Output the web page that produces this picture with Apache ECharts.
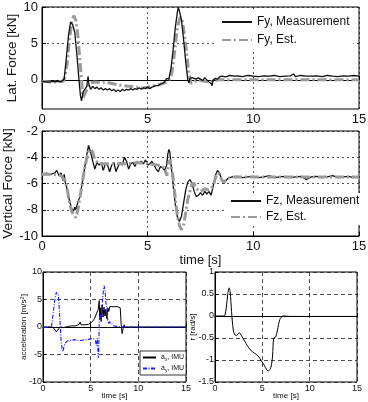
<!DOCTYPE html>
<html>
<head>
<meta charset="utf-8">
<script src="https://cdn.jsdelivr.net/npm/echarts@6/dist/echarts.min.js"></script>
<style>
  html, body { margin: 0; padding: 0; background: #fff; }
  #chart { width: 368px; height: 402px; }
</style>
</head>
<body>
<div id="chart"></div>
<script>
// time [s] / value pairs
const fyMeas = [[0,-0.2],[0.3,-0.3],[0.6,-0.2],[0.9,-0.25],[1.05,0.1],[1.15,3],[1.25,6],[1.35,7.9],[1.45,7.6],[1.55,6.5],[1.65,3.5],[1.75,0],[1.82,-2.2],[1.87,-2.9],[1.95,-1.6],[2.05,-1.2],[2.12,-0.9],[2.18,0.5],[2.22,-0.6],[2.3,-1.3],[2.4,-0.9],[2.5,-1.2],[2.6,-1.0],[2.7,-1.3],[2.8,-1.1],[2.9,-1.4],[3.0,-1.2],[3.1,-1.4],[3.2,-1.2],[3.3,-1.5],[3.4,-1.3],[3.5,-1.6],[3.6,-1.4],[3.7,-1.6],[3.8,-1.3],[3.9,-1.5],[4.0,-1.3],[4.1,-1.4],[4.2,-1.2],[4.3,-1.4],[4.4,-1.2],[4.5,-1.3],[4.6,-1.1],[4.7,-1.3],[4.8,-1.1],[4.9,-1.2],[5.0,-1.0],[5.1,-1.2],[5.2,-1.0],[5.3,-0.9],[5.4,-0.8],[5.5,-0.8],[5.6,-0.6],[5.7,-0.5],[5.8,-0.3],[5.9,0.2],[6.0,0.1],[6.1,1.5],[6.2,4],[6.3,7],[6.4,9.2],[6.45,9.9],[6.5,9.5],[6.6,8.2],[6.7,5.5],[6.8,2.5],[6.9,0.0],[6.95,-0.4],[7.0,0.2],[7.1,0.3],[7.2,0.2],[7.3,0.1],[7.4,0.3],[7.5,0.1],[7.6,-0.1],[7.7,0.3],[7.8,0.0],[7.9,-0.3],[8.0,-0.5],[8.05,-0.8],[8.1,0.0],[8.2,0.2],[8.3,0.1],[8.4,0.4],[8.5,0.5],[8.7,0.4],[8.9,0.6],[9.1,0.5],[9.25,0.55],[9.5,0.45],[9.75,0.6],[10,0.5],[10.25,0.45],[10.5,0.55],[10.75,0.5],[11,0.6],[11.25,0.45],[11.5,0.5],[11.75,0.55],[11.9,0.8],[12,0.45],[12.25,0.6],[12.5,0.5],[12.75,0.5],[13,0.55],[13.25,0.45],[13.5,0.6],[13.75,0.5],[14,0.45],[14.25,0.55],[14.5,0.5],[14.75,0.6],[15,0.5]];
const fyEst = [[0,-0.2],[0.5,-0.3],[1.0,-0.2],[1.1,0.5],[1.2,2.5],[1.3,5.5],[1.4,7.8],[1.5,8.8],[1.6,8.2],[1.7,6],[1.8,2.5],[1.9,-1.0],[1.95,-2.4],[2.05,-1.8],[2.2,-0.8],[2.3,-0.4],[2.5,-0.3],[2.8,-0.4],[3.0,-0.3],[3.3,-0.5],[3.6,-0.7],[3.9,-0.8],[4.2,-0.9],[4.5,-1.0],[4.8,-1.1],[5.0,-1.0],[5.3,-0.8],[5.6,-0.6],[5.9,-0.3],[6.1,0.3],[6.2,2],[6.3,4.5],[6.4,7],[6.5,8.3],[6.55,8.6],[6.65,8.0],[6.75,6],[6.85,3.5],[6.95,1],[7.05,-0.5],[7.15,-0.3],[7.4,0.0],[7.7,-0.2],[8.0,-0.3],[8.3,0.0],[9,0.0],[10,0.0],[11,0.0],[12,0],[13,0],[14,0],[15,0]];

const fzMeas = [[0,-5.3],[0.2,-5.2],[0.4,-5.3],[0.6,-5.2],[0.7,-5.0],[0.8,-5.4],[0.9,-5.2],[1.0,-5.8],[1.05,-5.3],[1.1,-5.9],[1.2,-6.5],[1.3,-7.3],[1.4,-7.9],[1.5,-8.1],[1.55,-7.8],[1.6,-8.0],[1.7,-7.4],[1.8,-7.0],[1.9,-6.0],[2.0,-5.0],[2.1,-4.0],[2.2,-3.1],[2.3,-3.6],[2.4,-4.3],[2.5,-4.9],[2.6,-4.4],[2.7,-4.6],[2.8,-4.4],[2.9,-5.0],[3.0,-4.5],[3.1,-4.6],[3.2,-5.1],[3.3,-4.6],[3.4,-4.4],[3.5,-5.1],[3.6,-4.7],[3.7,-4.4],[3.8,-4.6],[3.9,-4.0],[4.0,-4.3],[4.1,-4.9],[4.2,-4.5],[4.3,-4.4],[4.4,-4.7],[4.5,-4.3],[4.6,-4.5],[4.7,-4.3],[4.8,-4.5],[4.9,-4.2],[5.0,-4.6],[5.1,-4.5],[5.2,-4.3],[5.3,-4.6],[5.4,-4.9],[5.5,-5.1],[5.6,-4.7],[5.7,-4.8],[5.8,-5.0],[5.9,-4.6],[5.95,-3.8],[6.0,-3.4],[6.05,-3.6],[6.1,-4.5],[6.2,-6.0],[6.3,-7.5],[6.4,-8.5],[6.5,-8.9],[6.6,-8.5],[6.7,-7.5],[6.8,-6.5],[6.9,-5.9],[7.0,-5.7],[7.1,-6.0],[7.2,-6.6],[7.3,-7.0],[7.4,-6.9],[7.5,-6.7],[7.6,-6.9],[7.7,-6.6],[7.8,-6.8],[7.9,-6.6],[8.0,-6.9],[8.1,-6.2],[8.2,-5.4],[8.3,-5.0],[8.4,-5.2],[8.5,-5.7],[8.6,-6.0],[8.7,-5.8],[8.8,-5.6],[9.0,-5.5],[9.25,-5.45],[9.5,-5.55],[9.75,-5.5],[10,-5.45],[10.25,-5.55],[10.5,-5.5],[10.75,-5.4],[11,-5.55],[11.25,-5.5],[11.5,-5.45],[11.75,-5.55],[12,-5.5],[12.25,-5.45],[12.5,-5.7],[12.75,-5.5],[13,-5.45],[13.25,-5.55],[13.5,-5.5],[13.75,-5.4],[14,-5.55],[14.25,-5.5],[14.5,-5.45],[14.75,-5.55],[15,-5.5]];
const fzEst = [[0,-5.3],[0.5,-5.3],[0.9,-5.4],[1.1,-5.8],[1.2,-6.5],[1.3,-7.4],[1.4,-8.1],[1.5,-8.4],[1.6,-8.6],[1.7,-8.0],[1.8,-7.0],[1.9,-6.0],[2.0,-5.0],[2.1,-4.2],[2.2,-3.6],[2.3,-3.4],[2.4,-3.6],[2.5,-4.2],[2.7,-4.5],[3.0,-4.5],[3.5,-4.5],[4.0,-4.5],[4.5,-4.4],[5.0,-4.5],[5.5,-4.6],[5.8,-4.8],[5.9,-5.4],[6.0,-4.5],[6.05,-4.2],[6.1,-4.6],[6.2,-5.5],[6.3,-7.0],[6.4,-8.4],[6.5,-9.2],[6.6,-9.5],[6.7,-9.2],[6.8,-8.2],[6.9,-7.2],[7.0,-6.6],[7.1,-6.0],[7.2,-6.0],[7.3,-6.4],[7.5,-6.6],[7.7,-6.4],[7.9,-6.5],[8.1,-6.2],[8.2,-5.6],[8.3,-5.2],[8.4,-5.3],[8.5,-5.7],[8.6,-5.9],[8.8,-5.6],[9.0,-5.5],[10,-5.5],[12,-5.5],[15,-5.5]];

const axImu = [[0,0],[0.5,0],[1.0,0],[1.2,-0.4],[1.4,-0.85],[1.6,-0.6],[1.8,0],[2.0,0.1],[2.2,-0.1],[2.4,0.2],[2.6,0.1],[2.8,0.3],[3.0,0.2],[3.2,0.3],[3.4,0.2],[3.6,0.3],[3.8,0.5],[3.9,0.9],[4.0,0.4],[4.2,0.3],[4.4,0.4],[4.6,0.3],[4.8,0.5],[5.0,0.6],[5.2,1.0],[5.4,1.5],[5.6,2.4],[5.8,3.2],[5.9,4.8],[5.95,1.5],[6.0,3.5],[6.1,1.0],[6.2,4.0],[6.3,1.8],[6.4,3.6],[6.5,2.0],[6.6,3.2],[6.7,1.5],[6.8,3.5],[6.9,2.8],[7.0,3.7],[7.2,3.8],[7.4,3.7],[7.6,3.8],[7.8,3.7],[8.0,3.8],[8.1,3.5],[8.2,0.5],[8.3,-1.2],[8.4,-0.3],[8.5,0.4],[8.6,0],[9,0],[15,0]];
const ayImu = [[0,-0.1],[0.5,0],[0.9,0.2],[1.0,1.5],[1.2,4.5],[1.4,6.3],[1.5,6.5],[1.6,5.8],[1.7,3.5],[1.8,0.5],[1.9,-2.5],[2.0,-4.0],[2.1,-4.5],[2.2,-3.5],[2.3,-3.0],[2.5,-2.6],[2.7,-2.8],[2.9,-2.4],[3.1,-2.6],[3.3,-2.3],[3.5,-2.6],[3.7,-2.5],[3.9,-2.7],[4.1,-2.4],[4.3,-2.6],[4.5,-2.3],[4.7,-2.5],[4.9,-2.2],[5.1,-2.5],[5.3,-2.1],[5.5,-2.5],[5.6,-3.5],[5.7,-2.0],[5.8,-5.6],[5.85,-4.0],[5.9,1.0],[6.0,2.5],[6.1,1.2],[6.2,4.0],[6.3,6.0],[6.4,7.5],[6.5,6.8],[6.6,4.5],[6.7,3.0],[6.8,1.2],[6.9,0.5],[7.0,1.0],[7.2,0.6],[7.4,0.2],[7.6,0.4],[7.8,0.1],[8.0,0.1],[8.5,0],[15,0]];

const yawRate = [[0,0],[0.5,0],[0.98,0],[1.05,0.02],[1.2,0.2],[1.35,0.5],[1.5,0.64],[1.6,0.55],[1.75,0.1],[1.93,-0.32],[2.1,-0.43],[2.3,-0.44],[2.56,-0.38],[2.8,-0.45],[3.16,-0.58],[3.69,-0.76],[4.2,-0.85],[4.57,-0.91],[4.9,-1.02],[5.2,-1.12],[5.45,-1.22],[5.62,-1.25],[5.9,-1.17],[6.08,-0.91],[6.2,-0.5],[6.4,-0.48],[6.6,-0.32],[6.85,-0.08],[7.2,0],[8,-0.01],[15,-0.01]];

const topYTicks = [0, 5, 10];

const font = 'Liberation Sans, Arial, sans-serif';
const gridDash = { color: '#222', width: 0.8, type: [2, 3] };
const bottomDash = { color: '#222', width: 0.8, type: [4, 3] };

function xAxisCfg(gridIndex, big, name, nameGap) {
  return {
    type: 'value', gridIndex, min: 0, max: 15, interval: 5,
    name, nameLocation: 'middle', nameGap, nameMoveOverlap: false,
    nameTextStyle: { fontFamily: font, fontSize: big ? 13 : 8, color: '#111' },
    axisLine: { lineStyle: { color: '#000', width: 1 } },
    axisTick: { inside: true, length: big ? 4 : 3, lineStyle: { color: '#000' } },
    axisLabel: { fontFamily: font, fontSize: big ? 13 : 9, color: '#111', margin: big ? 4 : 2 },
    splitLine: { show: true, lineStyle: big ? gridDash : bottomDash }
  };
}

function yAxisCfg(gridIndex, big, extra) {
  return Object.assign({
    type: 'value', gridIndex, nameLocation: 'middle', nameRotate: 90, nameMoveOverlap: false,
    nameTextStyle: { fontFamily: font, fontSize: big ? 13.5 : 8, color: '#111' },
    axisLine: { lineStyle: { color: '#000', width: 1 } },
    axisTick: { inside: true, length: big ? 4 : 3, lineStyle: { color: '#000' } },
    axisLabel: { fontFamily: font, fontSize: big ? 13 : 9, color: '#111', margin: big ? 4 : 1 },
    splitLine: { show: true, lineStyle: big ? gridDash : bottomDash }
  }, extra);
}

function gridCfg(left, top, width, height) {
  return { left, top, width, height, show: true, borderColor: '#000', borderWidth: 1,
    containLabel: false, outerBoundsMode: 'none' };
}

const chart = echarts.init(document.getElementById('chart'), null, { renderer: 'canvas' });

chart.setOption({
  backgroundColor: '#fff',
  animation: false,
  grid: [
    gridCfg(42, 7, 317, 102),
    gridCfg(42, 131, 317, 105),
    gridCfg(43, 272, 143, 110),
    gridCfg(215, 272, 142, 110)
  ],
  xAxis: [
    xAxisCfg(0, true, '', 0),
    xAxisCfg(1, true, 'time [s]', 18),
    xAxisCfg(2, false, 'time [s]', 10),
    xAxisCfg(3, false, 'time [s]', 10)
  ],
  yAxis: [
    yAxisCfg(0, true, {
      min: -4, max: 10, name: 'Lat. Force [kN]', nameGap: 23,
      axisTick: { inside: true, length: 4, lineStyle: { color: '#000' }, customValues: topYTicks },
      axisLabel: { fontFamily: font, fontSize: 13, color: '#111', margin: 4, customValues: topYTicks }
    }),
    yAxisCfg(1, true, { min: -10, max: -2, interval: 2, name: 'Vertical Force [kN]', nameGap: 27 }),
    yAxisCfg(2, false, {
      min: -10, max: 10, interval: 5, nameGap: 14,
      name: 'acceleration [m/s{sup|2}]',
      nameTextStyle: { fontFamily: font, fontSize: 8, color: '#111', rich: { sup: { fontSize: 5.5, verticalAlign: 'top', padding: [0, 0, 4, 0] } } }
    }),
    yAxisCfg(3, false, { min: -1.5, max: 1, interval: 0.5, name: 'r [rad/s]', nameGap: 18 })
  ],
  legend: [
    {
      left: 217, top: 12, orient: 'vertical', itemWidth: 30, itemHeight: 10, itemGap: 6,
      backgroundColor: '#fff', padding: [4, 4, 4, 4], itemStyle: { opacity: 0 },
      textStyle: { fontFamily: font, fontSize: 12, color: '#111' },
      data: ['Fy, Measurement', 'Fy, Est.']
    },
    {
      left: 226, top: 193, orient: 'vertical', itemWidth: 30, itemHeight: 10, itemGap: 4,
      backgroundColor: '#fff', padding: [2, 4, 2, 4], itemStyle: { opacity: 0 },
      textStyle: { fontFamily: font, fontSize: 12, color: '#111' },
      data: ['Fz, Measurement', 'Fz, Est.']
    },
    {
      left: 140, top: 351, orient: 'vertical', itemWidth: 13, itemHeight: 6, itemGap: 3,
      backgroundColor: '#fff', borderColor: '#000', borderWidth: 0.8, padding: [3, 2, 2, 2],
      itemStyle: { opacity: 0 },
      formatter: n => n === 'ax' ? '{n|a}{s|x}{n|, IMU}' : '{n|a}{s|y}{n|, IMU}',
      textStyle: { fontFamily: font, fontSize: 7, color: '#111',
        rich: { n: { fontSize: 7 }, s: { fontSize: 5, verticalAlign: 'bottom', padding: [4, 0, 0, 0] } } },
      data: ['ax', 'ay']
    }
  ],
  series: [
    { name: 'Fy, Est.', type: 'line', xAxisIndex: 0, yAxisIndex: 0, data: fyEst, symbol: 'none',
      lineStyle: { color: '#9a9a9a', width: 3, type: [9, 3, 2, 3] }, itemStyle: { color: '#9a9a9a' } },
    { name: 'Fy, Measurement', type: 'line', xAxisIndex: 0, yAxisIndex: 0, data: fyMeas, symbol: 'none',
      lineStyle: { color: '#111', width: 1.3 }, itemStyle: { color: '#111' } },
    { name: 'Fz, Measurement', type: 'line', xAxisIndex: 1, yAxisIndex: 1, data: fzMeas, symbol: 'none',
      lineStyle: { color: '#111', width: 1.3 }, itemStyle: { color: '#111' } },
    { name: 'Fz, Est.', type: 'line', xAxisIndex: 1, yAxisIndex: 1, data: fzEst, symbol: 'none',
      lineStyle: { color: '#9a9a9a', width: 3, type: [9, 3, 2, 3] }, itemStyle: { color: '#9a9a9a' } },
    { name: 'ax', type: 'line', xAxisIndex: 2, yAxisIndex: 2, data: axImu, symbol: 'none',
      lineStyle: { color: '#000', width: 1 }, itemStyle: { color: '#000' } },
    { name: 'ay', type: 'line', xAxisIndex: 2, yAxisIndex: 2, data: ayImu, symbol: 'none',
      lineStyle: { color: '#1a1aff', width: 1.1, type: [4, 1.5, 1, 1.5] }, itemStyle: { color: '#1a1aff' } },
    { name: 'r', type: 'line', xAxisIndex: 3, yAxisIndex: 3, data: yawRate, symbol: 'none', smooth: 0.3,
      lineStyle: { color: '#000', width: 1 }, itemStyle: { color: '#000' } }
  ]
});
</script>
</body>
</html>
